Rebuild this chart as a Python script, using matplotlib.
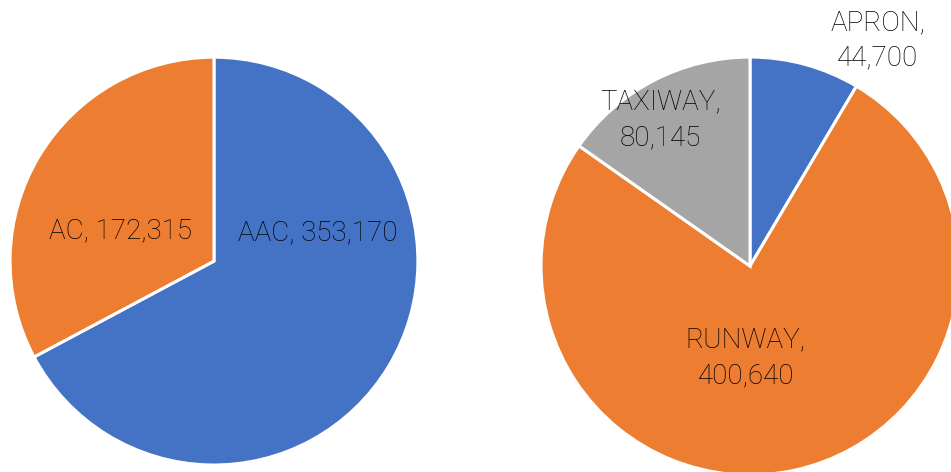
import matplotlib
matplotlib.use("Agg")
import matplotlib.pyplot as plt

# left pie: area split
AREA_NAMES  = ["AAC", "AC"]
AREA_VALUES = [353170, 172315]

# right pie: pavement type split
PAVE_NAMES  = ["APRON", "RUNWAY", "TAXIWAY"]
PAVE_VALUES = [44700, 400640, 80145]

BLUE   = "#4472C4"
ORANGE = "#ED7D31"
GRAY   = "#A5A5A5"
TEXT   = "#000000"

plt.rcParams["font.family"] = ["Roboto", "DejaVu Sans"]

fig = plt.figure(figsize=(9.51, 4.72), dpi=100)

# label placement, in units of pie radius
AREA_POS = [(0.51, 0.14), (-0.46, 0.15)]
PAVE_POS = [(0.61, 1.08), (-0.02, -0.44), (-0.43, 0.70)]


def draw_pie(rect, names, values, colors, positions, sep):
    ax = fig.add_axes(rect)
    ax.pie(values, colors=colors, startangle=90, counterclock=False,
           radius=1.0, wedgeprops=dict(edgecolor="white", linewidth=2.2))
    for name, val, (x, y) in zip(names, values, positions):
        ax.text(x, y, f"{name},{sep}{val:,}", ha="center", va="center",
                fontsize=20, fontweight="light", color=TEXT,
                linespacing=1.4)
    ax.set_xlim(-1, 1)
    ax.set_ylim(-1, 1)
    ax.set_aspect("equal")
    ax.axis("off")
    return ax


draw_pie([0.0105, 0.0148, 0.429, 0.864], AREA_NAMES, AREA_VALUES,
         [BLUE, ORANGE], AREA_POS, " ")
draw_pie([0.5689, -0.0064, 0.4395, 0.8856], PAVE_NAMES, PAVE_VALUES,
         [BLUE, ORANGE, GRAY], PAVE_POS, "\n")

fig.savefig("out.png", dpi=100)
